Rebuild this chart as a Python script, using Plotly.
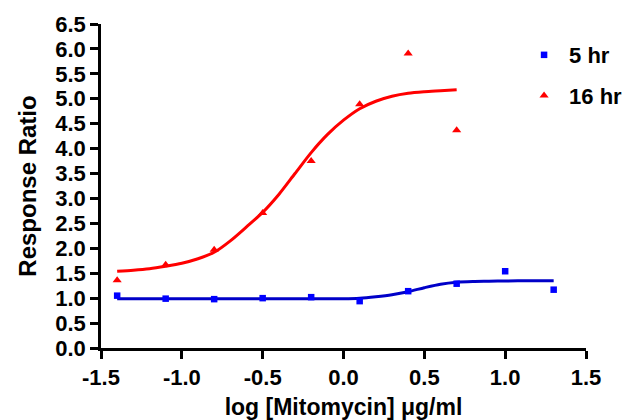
import plotly.graph_objects as go

# Measured data points
x_5hr = [-1.4, -1.1, -0.8, -0.5, -0.2, 0.1, 0.4, 0.7, 1.0, 1.3]
y_5hr = [1.05, 0.99, 0.98, 1.00, 1.02, 0.94, 1.14, 1.29, 1.54, 1.17]

x_16hr = [-1.4, -1.1, -0.8, -0.5, -0.2, 0.1, 0.4, 0.7]
y_16hr = [1.36, 1.67, 1.97, 2.71, 3.75, 4.89, 5.91, 4.37]

# Fitted curves
fit5_x = [-1.4, -1.1, -0.8, -0.5, -0.2, 0.0, 0.1, 0.2, 0.3, 0.4, 0.5, 0.6, 0.7, 0.8, 0.9, 1.0, 1.15, 1.3]
fit5_y = [0.99, 0.99, 0.99, 0.99, 0.99, 0.99, 1.00, 1.03, 1.07, 1.13, 1.21, 1.28, 1.32, 1.335, 1.34, 1.345, 1.35, 1.35]

fit16_x = [-1.4, -1.3, -1.2, -1.1, -1.0, -0.9, -0.8, -0.7, -0.6, -0.5, -0.4, -0.3, -0.2, -0.1,
           0.0, 0.1, 0.2, 0.3, 0.4, 0.5, 0.6, 0.7]
fit16_y = [1.54, 1.56, 1.59, 1.64, 1.70, 1.79, 1.92, 2.15, 2.43, 2.72, 3.08, 3.50, 3.92, 4.28,
           4.57, 4.80, 4.95, 5.05, 5.11, 5.14, 5.16, 5.18]

x_tickvals = [-1.5, -1.0, -0.5, 0.0, 0.5, 1.0, 1.5]
x_ticktext = ["-1.5", "-1.0", "-0.5", "0.0", "0.5", "1.0", "1.5"]
y_tickvals = [0.0, 0.5, 1.0, 1.5, 2.0, 2.5, 3.0, 3.5, 4.0, 4.5, 5.0, 5.5, 6.0, 6.5]
y_ticktext = ["%.1f" % v for v in y_tickvals]

FONT = "Liberation Sans, Arial, Helvetica, sans-serif"
BLUE_PT = "#0000FF"
BLUE_LN = "#0000C8"
RED = "#FF0000"

fig = go.Figure()
fig.add_trace(go.Scatter(x=fit5_x, y=fit5_y, mode="lines", line=dict(color=BLUE_LN, width=3, shape="spline", smoothing=0.8),
                         showlegend=False, hoverinfo="skip"))
fig.add_trace(go.Scatter(x=fit16_x, y=fit16_y, mode="lines", line=dict(color=RED, width=3, shape="spline", smoothing=0.8),
                         showlegend=False, hoverinfo="skip"))
fig.add_trace(go.Scatter(x=x_5hr, y=y_5hr, mode="markers", name="5 hr", legendgroup="a",
                         marker=dict(symbol="square", size=6.5, color=BLUE_PT)))
fig.add_trace(go.Scatter(x=x_16hr, y=y_16hr, mode="markers", name="16 hr", legendgroup="b",
                         marker=dict(symbol="triangle-up", size=8, color=RED)))

axis_common = dict(showgrid=False, zeroline=False, showline=True, linecolor="black", linewidth=2.5,
                   ticks="outside", ticklen=8, tickwidth=2.5, tickcolor="black", automargin=False,
                   tickfont=dict(family=FONT, size=22, color="black", weight="bold"))

fig.update_layout(
    width=633, height=420,
    margin=dict(l=93, r=55, t=16, b=80, autoexpand=False),
    paper_bgcolor="white", plot_bgcolor="white",
    font=dict(family=FONT, color="black"),
    xaxis=dict(range=[-1.5, 1.5], tickmode="array", tickvals=x_tickvals, ticktext=x_ticktext,
               title=dict(text="log [Mitomycin] μg/ml", font=dict(family=FONT, size=23, color="black", weight="bold"), standoff=10),
               **axis_common),
    yaxis=dict(range=[0, 6.5], tickmode="array", tickvals=y_tickvals, ticktext=y_ticktext,
               title=dict(text="Response Ratio", font=dict(family=FONT, size=24, color="black", weight="bold"), standoff=12),
               **axis_common),
    legend=dict(x=0.862, y=0.969, xanchor="left", yanchor="top", bgcolor="rgba(0,0,0,0)",
                itemwidth=40,
                font=dict(family=FONT, size=22, color="black", weight="bold"), tracegroupgap=9),
    showlegend=True,
)

fig.write_html("out.html")
